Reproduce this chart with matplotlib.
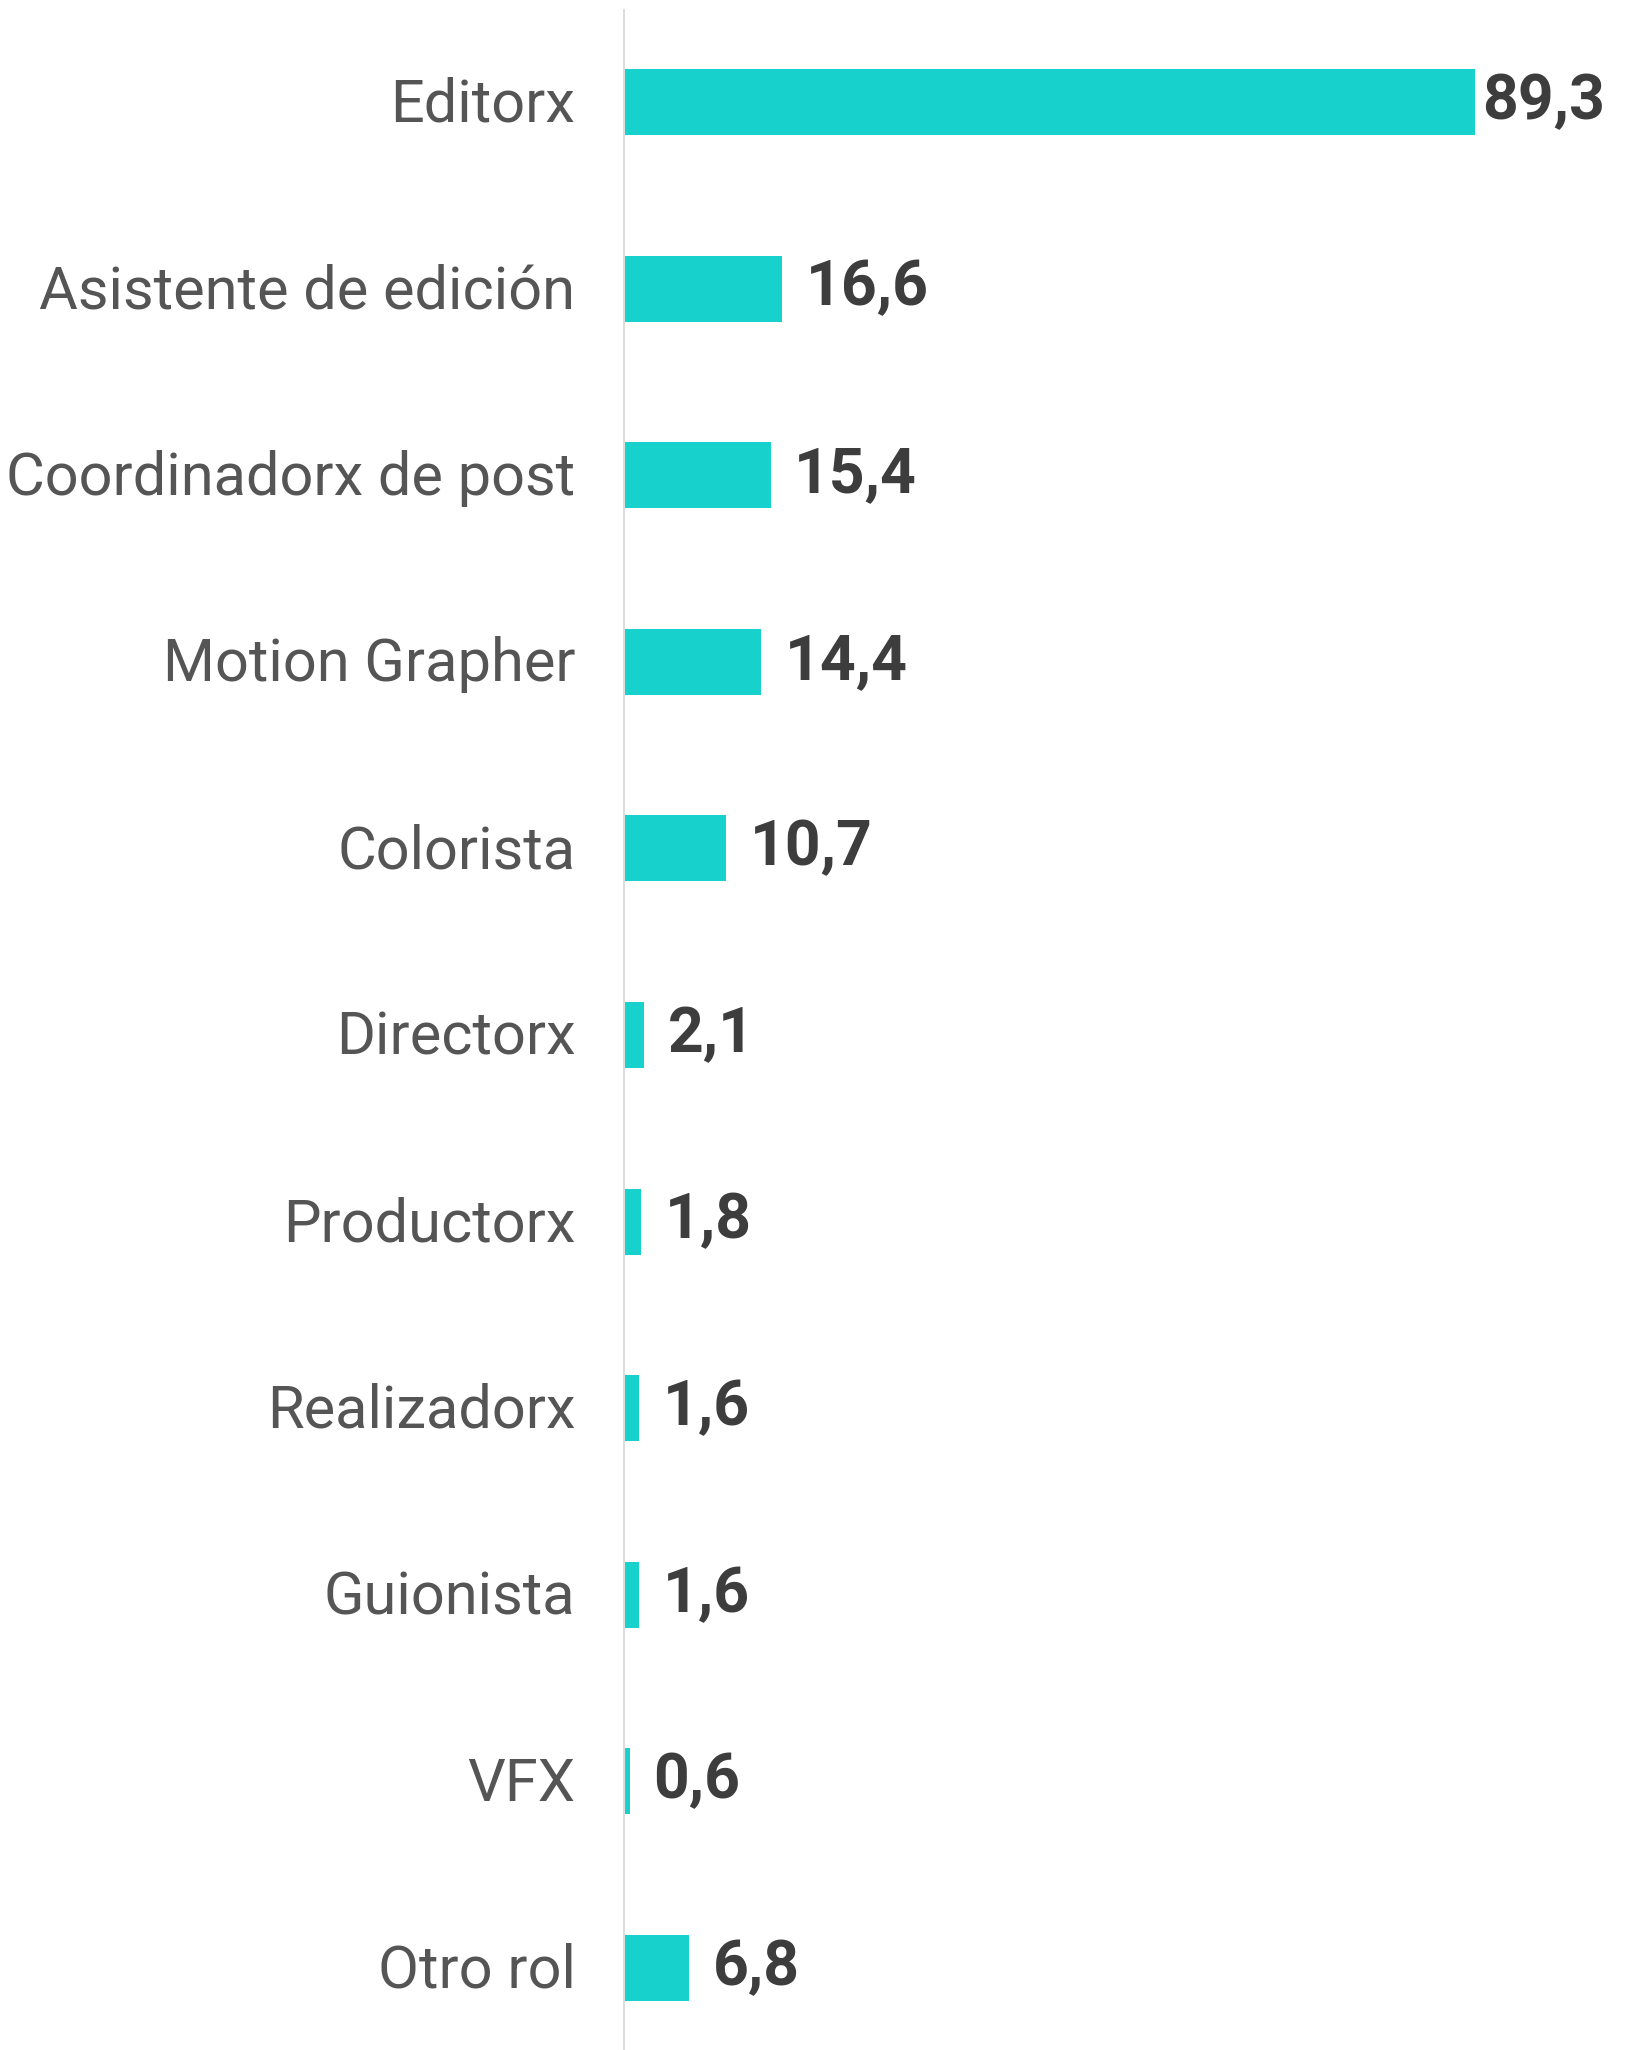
import matplotlib.pyplot as plt
import matplotlib.transforms as mtransforms

# data
roles = ["Editorx", "Asistente de edición", "Coordinadorx de post", "Motion Grapher",
         "Colorista", "Directorx", "Productorx", "Realizadorx", "Guionista", "VFX", "Otro rol"]
values = [89.3, 16.6, 15.4, 14.4, 10.7, 2.1, 1.8, 1.6, 1.6, 0.6, 6.8]
value_labels = ["89,3", "16,6", "15,4", "14,4", "10,7", "2,1", "1,8", "1,6", "1,6", "0,6", "6,8"]

plt.rcParams["font.family"] = ["Roboto", "DejaVu Sans"]

fig = plt.figure(figsize=(16.31, 20.5), dpi=100)
ax = fig.add_axes([624 / 1631, 0, 1 - 624 / 1631, 2040 / 2050])

pos = list(range(len(roles)))
ax.barh(pos, values, height=0.354, color="#17d1cc")

for i, v in enumerate(values):
    off = 5 if i == 0 else 17
    ax.annotate(value_labels[i], (v, i), xytext=(off, 0), textcoords="offset points",
                ha="left", va="center", fontsize=45, fontweight="bold", color="#3d3d3d")

ax.set_xlim(0, 105.7)
ax.set_ylim(10.44, -0.493)
ax.set_yticks(pos)
ax.set_yticklabels(roles, fontsize=42.8, color="#555555")
ax.tick_params(axis="y", length=0, pad=35)
ax.set_xticks([])

# nudge category labels up a little
shift = mtransforms.ScaledTranslation(0, 2 / 72, fig.dpi_scale_trans)
for lab in ax.get_yticklabels():
    lab.set_transform(lab.get_transform() + shift)

for s in ["top", "right", "bottom"]:
    ax.spines[s].set_visible(False)
ax.spines["left"].set_color("#dddddd")
ax.spines["left"].set_linewidth(1.5)

fig.savefig("out.png", dpi=100)
